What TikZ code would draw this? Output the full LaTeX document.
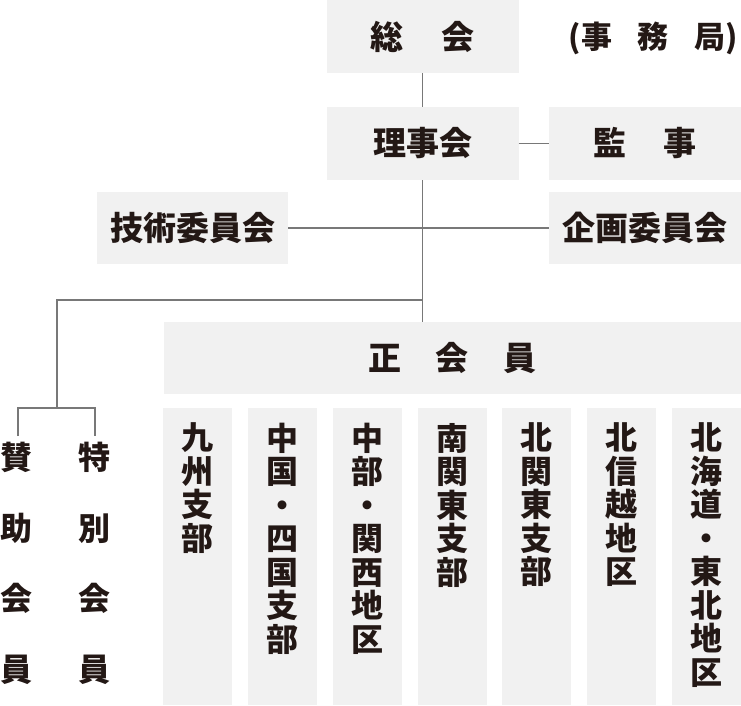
\documentclass[tikz,border=0pt]{standalone}
\usepackage{fontspec}
\newfontfamily\jp{Noto Sans CJK JP}
\definecolor{boxgray}{RGB}{241,241,241}
\definecolor{txt}{RGB}{35,24,21}
\definecolor{linegray}{RGB}{120,120,120}
\tikzset{
  gbox/.style={fill=boxgray, draw=none, inner sep=0pt, text=txt,
    font=\jp\bfseries\fontsize{33}{36}\selectfont},
  vbox/.style={fill=boxgray, draw=none, inner sep=0pt,
    minimum width=69pt, minimum height=297pt},
  vtext/.style={inner sep=0pt, text=txt, align=center, anchor=north,
    font=\jp\bfseries\fontsize{32}{33.5}\selectfont},
  stext/.style={inner sep=0pt, text=txt, align=center, anchor=north,
    font=\jp\bfseries\fontsize{32}{70.5}\selectfont},
  plain/.style={inner sep=0pt, text=txt,
    font=\jp\bfseries\fontsize{31}{36}\selectfont},
  conn/.style={draw=linegray, line width=1.3pt}
}
\begin{document}
\begin{tikzpicture}[x=1pt,y=-1pt]
\useasboundingbox (0,0) rectangle (741,705);
% top row
\node[gbox, minimum width=192pt, minimum height=73pt] (sokai) at (422.5,36.5) {総\hspace{39pt}会};
\node[plain] (jimu) at (653.5,38) {(事\hspace{26pt}務\hspace{26pt}局)};
\node[gbox, minimum width=192pt, minimum height=73pt] (riji) at (422.5,143.5) {理事会};
\node[gbox, minimum width=192pt, minimum height=73pt] (kanji) at (645,143.5) {監\hspace{37pt}事};
\node[gbox, minimum width=191pt, minimum height=72pt] (gijutsu) at (192.5,228) {技術委員会};
\node[gbox, minimum width=192pt, minimum height=72pt] (kikaku) at (645,228) {企画委員会};
\node[gbox, minimum width=577pt, minimum height=72pt] (sei) at (452.5,358) {正\hspace{34.5pt}会\hspace{34.5pt}員};
% branches
\node[vbox] (b1) at (197.5,556.5) {};
\node[vbox] (b2) at (282.5,556.5) {};
\node[vbox] (b3) at (367.5,556.5) {};
\node[vbox] (b4) at (452.5,556.5) {};
\node[vbox] (b5) at (536.5,556.5) {};
\node[vbox] (b6) at (621.5,556.5) {};
\node[vbox] (b7) at (706.5,556.5) {};
\node[vtext] (t1) at ([yshift=-15pt]b1.north) {九\\州\\支\\部};
\node[vtext] (t2) at ([yshift=-15pt]b2.north) {中\\国\\・\\四\\国\\支\\部};
\node[vtext] (t3) at ([yshift=-15pt]b3.north) {中\\部\\・\\関\\西\\地\\区};
\node[vtext] (t4) at ([yshift=-15pt]b4.north) {南\\関\\東\\支\\部};
\node[vtext] (t5) at ([yshift=-15pt]b5.north) {北\\関\\東\\支\\部};
\node[vtext] (t6) at ([yshift=-15pt]b6.north) {北\\信\\越\\地\\区};
\node[vtext] (t7) at ([yshift=-15pt]b7.north) {北\\海\\道\\・\\東\\北\\地\\区};
% supporting / special members
\node[stext] (sanjo) at (17,442) {賛\\助\\会\\員};
\node[stext] (toku) at (94,442) {特\\別\\会\\員};
\coordinate (sanjotop) at (18,436);
\coordinate (tokutop) at (95,436);
\coordinate (jleft) at (57,408);
\coordinate (jtrunk) at (422.5,300);
% connectors
\draw[conn] (sokai.south) -- (riji.north);
\draw[conn] (riji.east) -- (kanji.west);
\draw[conn] (gijutsu.east) -- (kikaku.west);
\draw[conn] (riji.south) -- (riji.south |- sei.north);
\draw[conn] (jtrunk) -| (jleft);
\draw[conn] (sanjotop) |- (jleft) -| (tokutop);
\end{tikzpicture}
\end{document}
